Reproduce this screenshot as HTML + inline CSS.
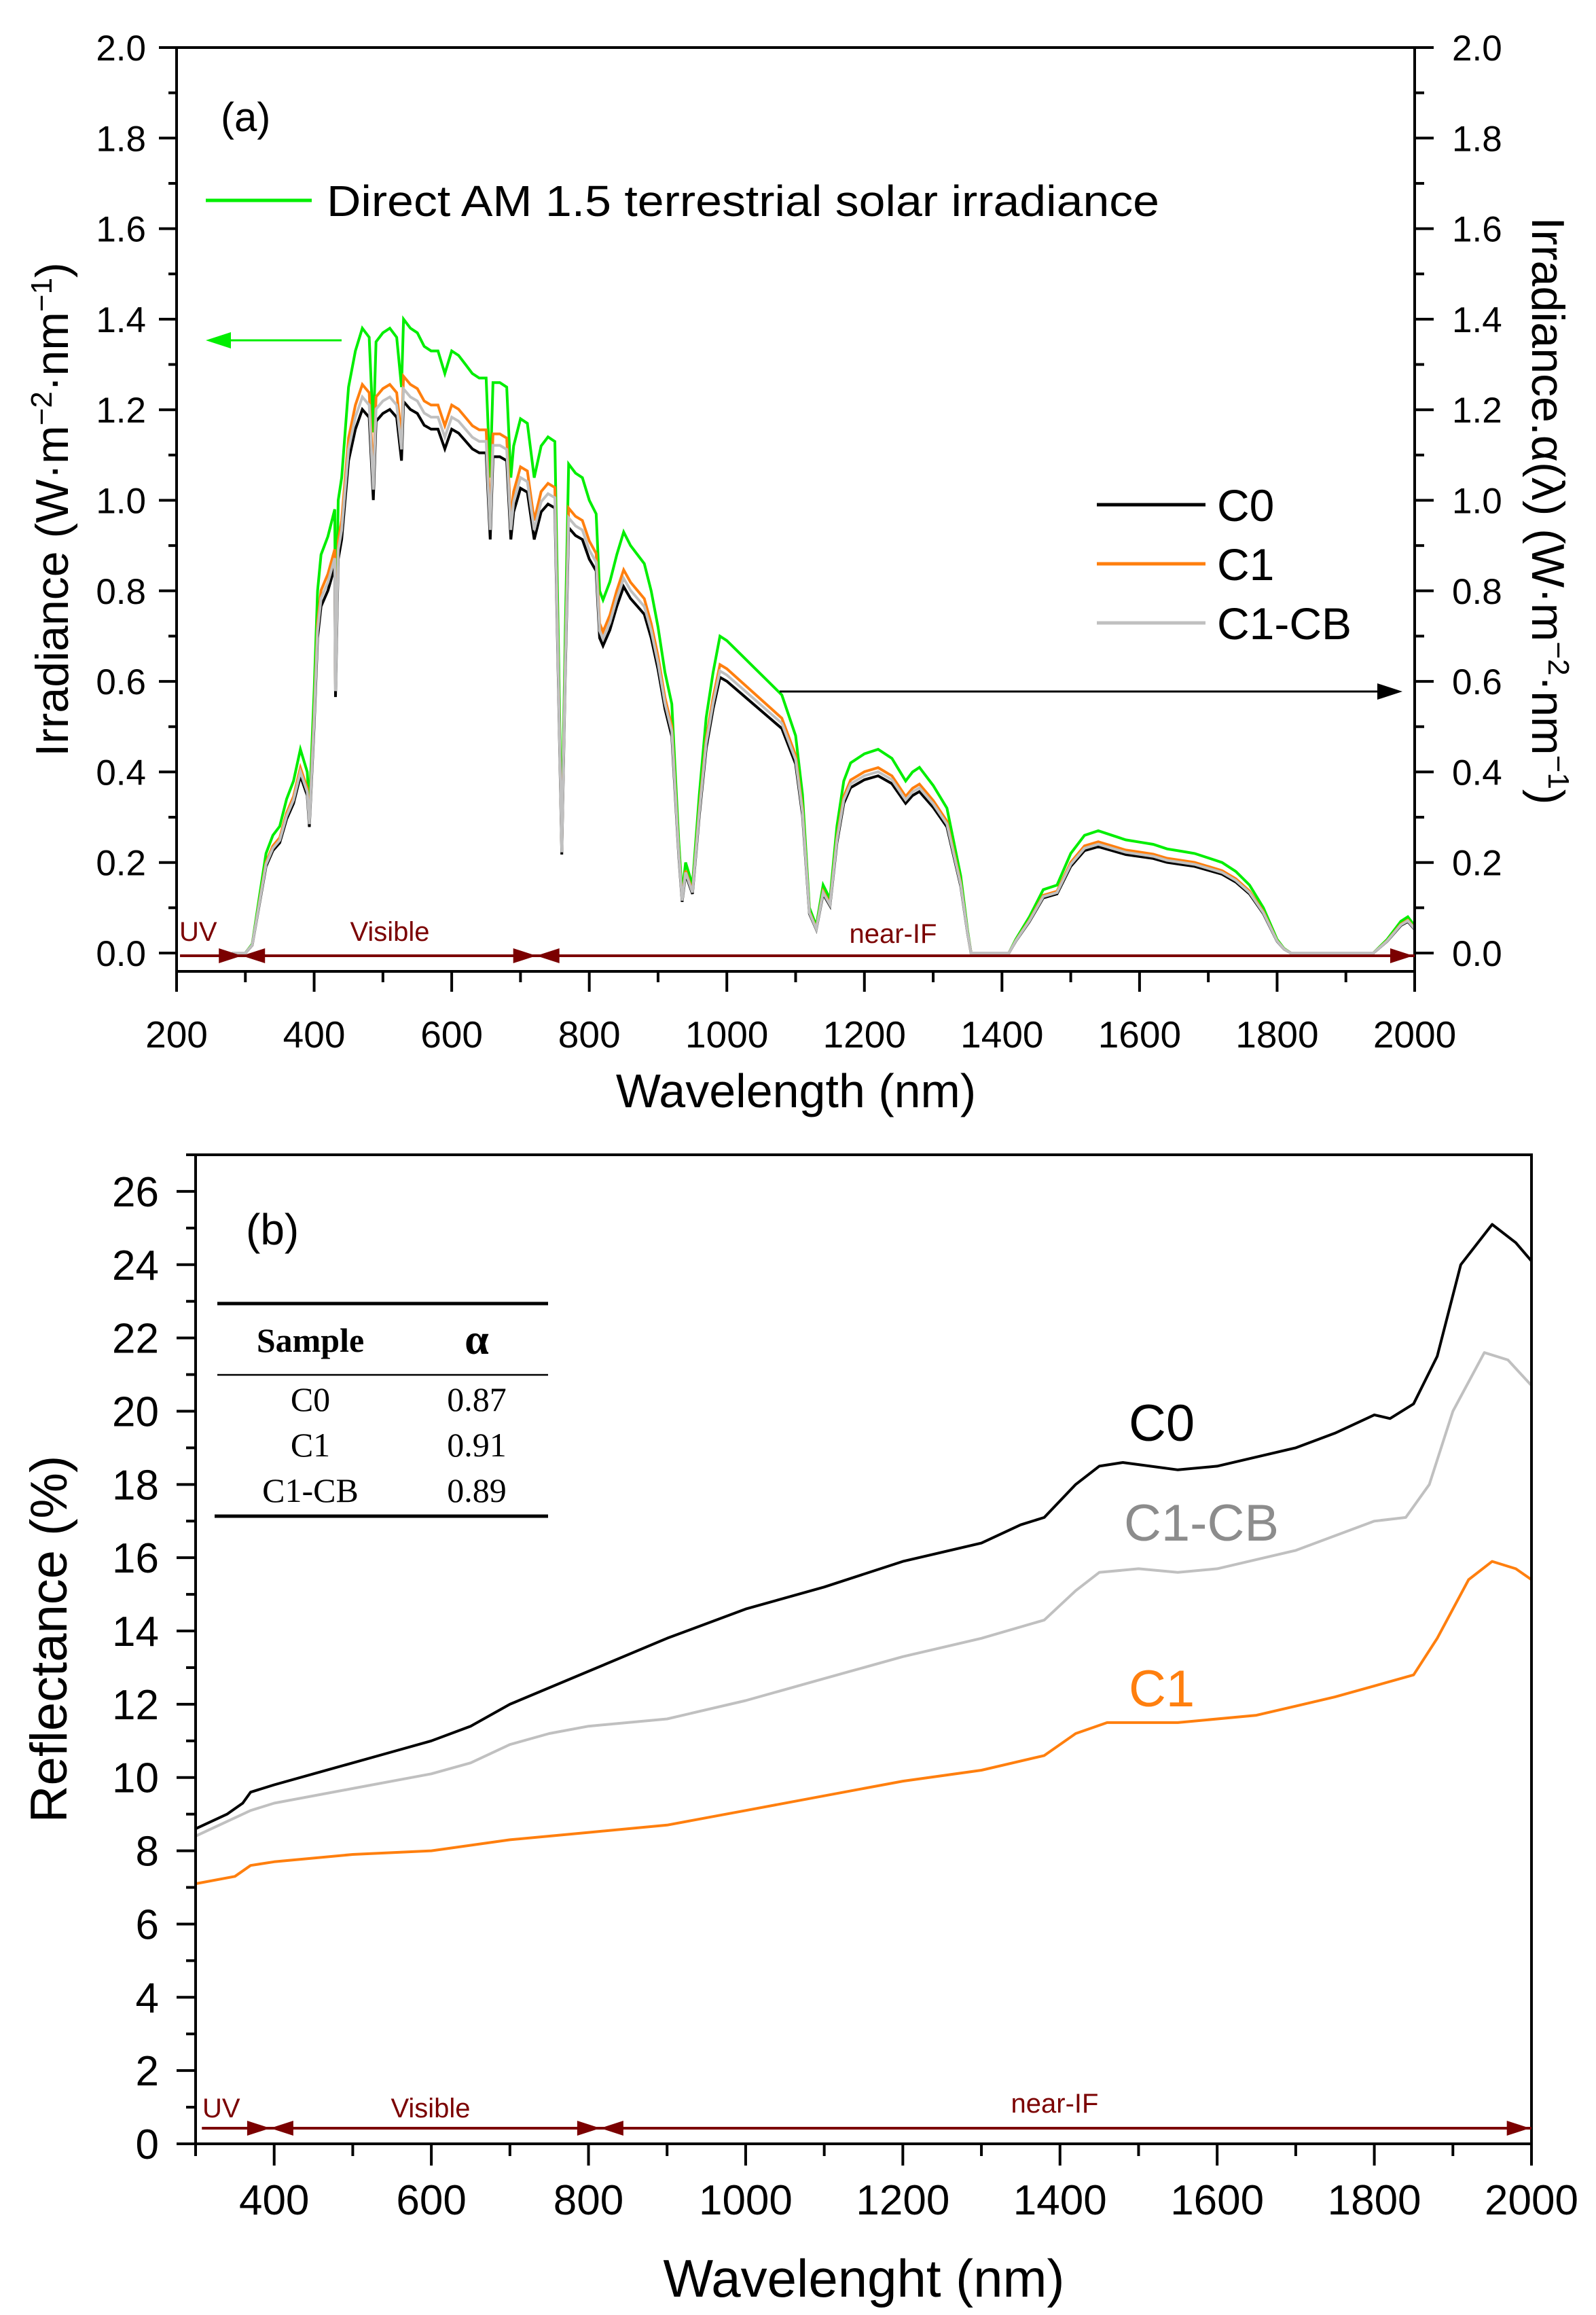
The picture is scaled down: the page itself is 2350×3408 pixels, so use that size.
<!DOCTYPE html>
<html><head><meta charset="utf-8"><style>
html,body{margin:0;padding:0;background:#fff;}
svg{display:block;font-family:"Liberation Sans",sans-serif;}
</style></head><body>
<svg id="fig" width="2350" height="3408" viewBox="0 0 2350 3408" xmlns="http://www.w3.org/2000/svg">
<g id="pa"></g>
<g id="pb"></g>
</svg>
<script>
// ---------- Panel (a) data ----------
const wlA = [280,300,310,320,330,340,350,360,370,380,390,393,400,405,410,420,430,431,435,440,450,460,470,480,486,490,500,510,520,527,530,540,550,560,570,580,590,600,610,620,630,640,650,656,660,670,680,686,690,700,710,720,730,740,750,760,765,770,780,790,800,810,815,820,830,840,850,860,870,880,890,900,910,920,930,935,940,950,960,970,980,990,1000,1020,1040,1060,1080,1100,1110,1120,1130,1140,1150,1160,1170,1180,1200,1220,1240,1260,1270,1280,1300,1320,1340,1350,1355,1410,1420,1440,1460,1480,1500,1520,1540,1560,1580,1600,1620,1640,1660,1680,1700,1720,1740,1760,1780,1800,1810,1820,1940,1960,1980,1990,2000];
const solarDirect = [0,0,0.02,0.12,0.22,0.26,0.28,0.34,0.38,0.45,0.40,0.32,0.58,0.80,0.88,0.92,0.98,0.65,1.0,1.05,1.25,1.33,1.38,1.36,1.15,1.35,1.37,1.38,1.36,1.25,1.40,1.38,1.37,1.34,1.33,1.33,1.28,1.33,1.32,1.30,1.28,1.27,1.27,1.05,1.26,1.26,1.25,1.05,1.12,1.18,1.17,1.05,1.12,1.14,1.13,0.25,0.70,1.08,1.06,1.05,1.00,0.97,0.80,0.78,0.82,0.88,0.93,0.90,0.88,0.86,0.80,0.72,0.62,0.55,0.25,0.13,0.20,0.15,0.35,0.52,0.62,0.70,0.69,0.66,0.63,0.60,0.57,0.48,0.35,0.10,0.06,0.15,0.12,0.28,0.38,0.42,0.44,0.45,0.43,0.38,0.40,0.41,0.37,0.32,0.17,0.05,0,0,0.03,0.08,0.14,0.15,0.22,0.26,0.27,0.26,0.25,0.245,0.24,0.23,0.225,0.22,0.21,0.20,0.18,0.15,0.10,0.03,0.01,0,0,0.03,0.07,0.08,0.06];
const sampleNames = ["C0","C1","C1-CB"];
const alphaValues = [0.87,0.91,0.89];
const sampleColors = ["#000000","#ff7f0e","#c0c0c0"];
const ticksA_x = [200,400,600,800,1000,1200,1400,1600,1800,2000];
const ticksA_y = [0.0,0.2,0.4,0.6,0.8,1.0,1.2,1.4,1.6,1.8,2.0];

// ---------- Panel (b) data ----------
const wlC0 = [300,340,360,370,400,450,500,550,600,650,700,800,900,1000,1100,1200,1300,1350,1380,1420,1450,1480,1550,1600,1700,1750,1800,1820,1850,1880,1910,1950,1980,2000];
const reflC0 = [8.6,9.0,9.3,9.6,9.8,10.1,10.4,10.7,11.0,11.4,12.0,12.9,13.8,14.6,15.2,15.9,16.4,16.9,17.1,18.0,18.5,18.6,18.4,18.5,19.0,19.4,19.9,19.8,20.2,21.5,24.0,25.1,24.6,24.1];
const wlC1CB = [300,350,370,400,500,600,650,700,750,800,900,1000,1100,1200,1300,1380,1420,1450,1500,1550,1600,1700,1800,1840,1870,1900,1940,1970,2000];
const reflC1CB = [8.4,8.9,9.1,9.3,9.7,10.1,10.4,10.9,11.2,11.4,11.6,12.1,12.7,13.3,13.8,14.3,15.1,15.6,15.7,15.6,15.7,16.2,17.0,17.1,18.0,20.0,21.6,21.4,20.7];
const wlC1 = [300,350,370,400,500,600,700,800,900,1000,1100,1200,1300,1380,1420,1460,1550,1650,1750,1800,1850,1880,1920,1950,1980,2000];
const reflC1 = [7.1,7.3,7.6,7.7,7.9,8.0,8.3,8.5,8.7,9.1,9.5,9.9,10.2,10.6,11.2,11.5,11.5,11.7,12.2,12.5,12.8,13.8,15.4,15.9,15.7,15.4];
const ticksB_x = [400,600,800,1000,1200,1400,1600,1800,2000];
const ticksB_y = [0,2,4,6,8,10,12,14,16,18,20,22,24,26];

const NS="http://www.w3.org/2000/svg";
function mk(parent,tag,attrs,txt){const e=document.createElementNS(NS,tag);for(const k in attrs)e.setAttribute(k,attrs[k]);if(txt!==undefined)e.textContent=txt;parent.appendChild(e);return e;}
const DR="#7b0000";

// ===== Panel A =====
const pa=document.getElementById('pa');
const A={x0:260,x1:2083,y0:1403,yTop:70,yBot:1430};
const xA=v=>A.x0+(v-200)/1800*(A.x1-A.x0);
const yA=v=>A.y0-v/2.0*(A.y0-A.yTop);
function pathFrom(xs,ys,xf,yf,scale){let d="";for(let i=0;i<xs.length;i++){d+=(i?"L":"M")+xf(xs[i]).toFixed(1)+" "+yf(ys[i]*scale).toFixed(1);}return d;}
let p=mk(pa,'path',{d:pathFrom(wlA,solarDirect,xA,yA,1),fill:'none',stroke:'#00ee00','stroke-width':4});


const order=[1,0,2];
order.forEach(i=>{const q=mk(pa,'path',{d:pathFrom(wlA,solarDirect,xA,yA,alphaValues[i]),fill:'none',stroke:sampleColors[i],'stroke-width':4});

});
let fr=mk(pa,'rect',{x:A.x0,y:A.yTop,width:A.x1-A.x0,height:A.yBot-A.yTop,fill:'none',stroke:'#000','stroke-width':4});


for(let v=200;v<=2000;v+=100){const x=xA(v);const maj=v%200===0;mk(pa,'line',{x1:x,y1:A.yBot,x2:x,y2:A.yBot+(maj?30:16),stroke:'#000','stroke-width':4});}
ticksA_x.forEach(v=>{const t=mk(pa,'text',{x:xA(v),y:1542,'font-size':55,'text-anchor':'middle'},String(v));

});
for(let k=0;k<=20;k++){const v=k/10;const y=yA(v);const maj=k%2===0;
mk(pa,'line',{x1:A.x0,y1:y,x2:A.x0-(maj?26:12),y2:y,stroke:'#000','stroke-width':4});
mk(pa,'line',{x1:A.x1,y1:y,x2:A.x1+(maj?28:14),y2:y,stroke:'#000','stroke-width':4});}
ticksA_y.forEach(v=>{const y=yA(v)+19;
const t=mk(pa,'text',{x:215,y:y,'font-size':53,'text-anchor':'end'},v.toFixed(1));


const t2=mk(pa,'text',{x:2138,y:y,'font-size':53,'text-anchor':'start'},v.toFixed(1));

});
function band(g,yb,x0,x1,marks,labels){
 mk(g,'line',{x1:x0,y1:yb,x2:x1,y2:yb,stroke:DR,'stroke-width':4});
 marks.forEach(m=>{const [xt,dir]=m;const w=34,h=11;
  const pts=dir>0?`${xt-w},${yb-h} ${xt},${yb} ${xt-w},${yb+h}`:`${xt+w},${yb-h} ${xt},${yb} ${xt+w},${yb+h}`;
  mk(g,'polygon',{points:pts,fill:DR});});
 labels.forEach(l=>{mk(g,'text',{x:l[0],y:l[1],'font-size':40,fill:DR,'text-anchor':l[2]},l[3]);});
}
const bandA=mk(pa,'g',{});
band(bandA,1407,xA(205),xA(2000),[[xA(295),1],[xA(295),-1],[xA(723),1],[xA(723),-1],[xA(1998),1]],
 [[264,1385,'start','UV'],[574,1385,'middle','Visible'],[1315,1388,'middle','near-IF']]);
let lab=mk(pa,'text',{x:325,y:193,'font-size':60},'(a)');


mk(pa,'line',{x1:303,y1:295,x2:459,y2:295,stroke:'#00ee00','stroke-width':5});
lab=mk(pa,'text',{x:481,y:318,'font-size':64,textLength:1226,lengthAdjust:'spacingAndGlyphs'},'Direct AM 1.5 terrestrial solar irradiance');


sampleNames.forEach((n,i)=>{const y=743+i*87;mk(pa,'line',{x1:1615,y1:y,x2:1775,y2:y,stroke:sampleColors[i],'stroke-width':5});
 const t=mk(pa,'text',{x:1792,y:y+24,'font-size':66},n);
 
 });
mk(pa,'line',{x1:503,y1:501,x2:330,y2:501,stroke:'#00ee00','stroke-width':3});
mk(pa,'polygon',{points:'303,501 340,489 340,513',fill:'#00ee00'});
mk(pa,'line',{x1:1148,y1:1018,x2:2030,y2:1018,stroke:'#000','stroke-width':3});
mk(pa,'polygon',{points:'2065,1018 2028,1006 2028,1030',fill:'#000'});
lab=mk(pa,'text',{x:0,y:0,'font-size':68,'text-anchor':'middle',transform:'translate(100,750) rotate(-90)'});
lab.innerHTML='Irradiance (W·m<tspan dy="-24" font-size="44">−2</tspan><tspan dy="24">·nm</tspan><tspan dy="-24" font-size="44">−1</tspan><tspan dy="24">)</tspan>';


lab=mk(pa,'text',{x:0,y:0,'font-size':68,'text-anchor':'middle',transform:'translate(2256,752) rotate(90)'});
lab.innerHTML='Irradiance.α(λ)  (W·m<tspan dy="-24" font-size="44">−2</tspan><tspan dy="24">·nm</tspan><tspan dy="-24" font-size="44">−1</tspan><tspan dy="24">)</tspan>';


lab=mk(pa,'text',{x:1172,y:1630,'font-size':70,'text-anchor':'middle'},'Wavelength (nm)');



// ===== Panel B =====
const pb=document.getElementById('pb');
const B={x0:288,x1:2255,y0:3156,yTop:1700};
const xB=v=>B.x0+(v-300)/1700*(B.x1-B.x0);
const yB=v=>B.y0-v/27*(B.y0-B.yTop);
function lineB(xs,ys,col,name){const q=mk(pb,'path',{d:pathFrom(xs,ys,xB,yB,1),fill:'none',stroke:col,'stroke-width':4,'stroke-linejoin':'round'});

}
lineB(wlC0,reflC0,'#000','reflectance-line-c0');
lineB(wlC1CB,reflC1CB,'#c0c0c0','reflectance-line-c1-cb');
lineB(wlC1,reflC1,'#ff7f0e','reflectance-line-c1');
fr=mk(pb,'rect',{x:B.x0,y:B.yTop,width:B.x1-B.x0,height:B.y0-B.yTop,fill:'none',stroke:'#000','stroke-width':4});


for(let v=300;v<=2000;v+=100){const x=xB(v);const maj=v%200===0;mk(pb,'line',{x1:x,y1:B.y0,x2:x,y2:B.y0+(maj?32:18),stroke:'#000','stroke-width':4});}
ticksB_x.forEach(v=>{const t=mk(pb,'text',{x:xB(v),y:3260,'font-size':62,'text-anchor':'middle'},String(v));

});
for(let v=0;v<=27;v++){const y=yB(v);const maj=v%2===0;mk(pb,'line',{x1:B.x0,y1:y,x2:B.x0-(maj?28:14),y2:y,stroke:'#000','stroke-width':4});}
ticksB_y.forEach(v=>{const t=mk(pb,'text',{x:234,y:yB(v)+22,'font-size':62,'text-anchor':'end'},String(v));

});
const bandB=mk(pb,'g',{});
band(bandB,3133,xB(308),xB(2000),[[xB(395),1],[xB(395),-1],[xB(815),1],[xB(815),-1],[xB(1998),1]],
 [[298,3117,'start','UV'],[634,3117,'middle','Visible'],[1553,3110,'middle','near-IF']]);
lab=mk(pb,'text',{x:362,y:1832,'font-size':64},'(b)');


const tb=mk(pb,'g',{'font-family':'"Liberation Serif",serif'});
mk(tb,'line',{x1:320,y1:1919,x2:807,y2:1919,stroke:'#000','stroke-width':5});
mk(tb,'line',{x1:320,y1:2024,x2:807,y2:2024,stroke:'#000','stroke-width':2.5});
mk(tb,'line',{x1:316,y1:2232,x2:807,y2:2232,stroke:'#000','stroke-width':5});
mk(tb,'text',{x:457,y:1990,'font-size':50,'font-weight':'bold','text-anchor':'middle'},'Sample');
mk(tb,'text',{x:702,y:1993,'font-size':64,'font-weight':'bold','text-anchor':'middle'},'α');
sampleNames.forEach((n,i)=>{const y=2077+i*67;
 const a=mk(tb,'text',{x:457,y:y,'font-size':50,'text-anchor':'middle'},n);
 
 
 const b=mk(tb,'text',{x:702,y:y,'font-size':50,'text-anchor':'middle'},alphaValues[i].toFixed(2));
 
 });
lab=mk(pb,'text',{x:1662,y:2121,'font-size':76},'C0');


lab=mk(pb,'text',{x:1655,y:2268,'font-size':76,fill:'#8c8c8c'},'C1-CB');


lab=mk(pb,'text',{x:1662,y:2512,'font-size':76,fill:'#ff7f0e'},'C1');


lab=mk(pb,'text',{x:0,y:0,'font-size':76,'text-anchor':'middle',transform:'translate(98,2413) rotate(-90)'},'Reflectance (%)');


lab=mk(pb,'text',{x:1272,y:3381,'font-size':78,'text-anchor':'middle'},'Wavelenght (nm)');


</script>
</body></html>
